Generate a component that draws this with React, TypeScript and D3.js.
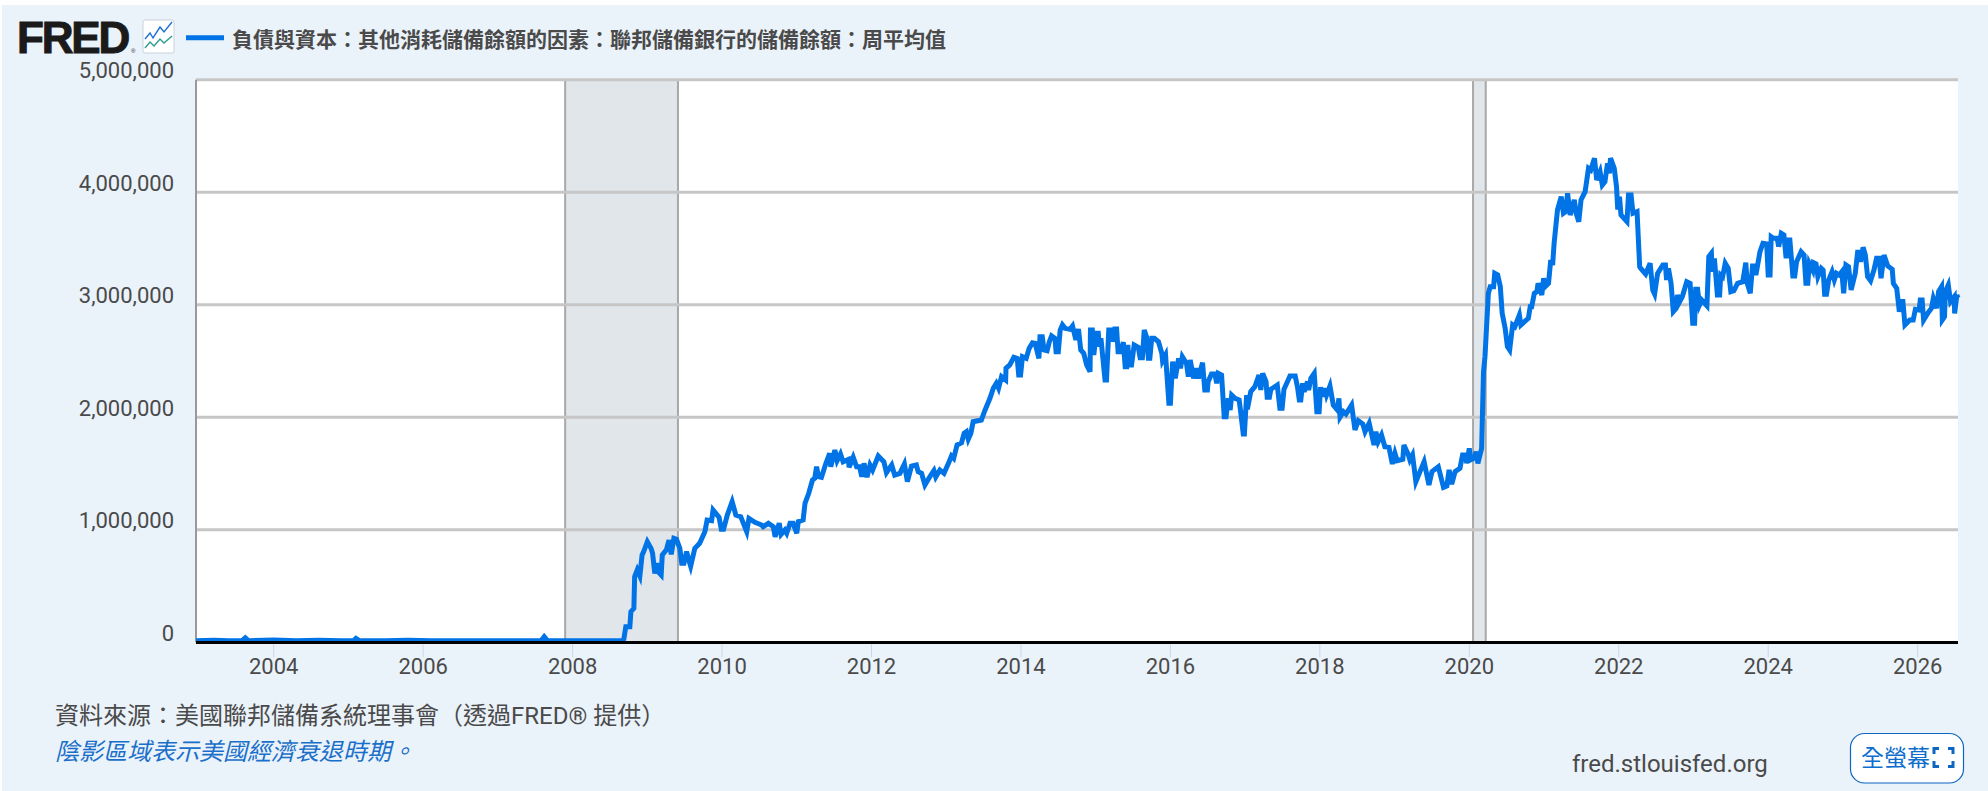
import * as d3 from "d3";

// All series values are in billions of dollars: [decimal year, value]
const flatYears: [number, number][] = [
  [2002.96, 14], [2003.2, 18], [2003.4, 14], [2003.58, 15], [2003.62, 38], [2003.66, 14], [2004.0, 20], [2004.3, 14],
  [2004.6, 18], [2004.9, 14], [2005.07, 15], [2005.1, 34], [2005.14, 16], [2005.5, 14], [2005.8, 18], [2006.1, 12],
  [2006.5, 14], [2006.9, 12], [2007.3, 13], [2007.58, 14], [2007.62, 48], [2007.66, 16], [2008.0, 12], [2008.3, 14],
  [2008.6, 12], [2008.67, 12],
];

const crisisYears: [number, number][] = [
  [2008.685, 26], [2008.712, 138], [2008.766, 138], [2008.78, 271], [2008.82, 301], [2008.83, 582], [2008.865, 642],
  [2008.9, 588], [2008.93, 775], [2008.95, 804], [2009.0, 893], [2009.05, 834], [2009.07, 790], [2009.1, 612],
  [2009.13, 701], [2009.155, 618], [2009.185, 597], [2009.2, 775], [2009.255, 820], [2009.29, 908], [2009.32, 781],
  [2009.355, 923], [2009.39, 915], [2009.435, 834], [2009.46, 701], [2009.49, 701], [2009.525, 805], [2009.555, 731],
  [2009.58, 675], [2009.635, 834], [2009.7, 879], [2009.77, 982], [2009.8, 1086], [2009.86, 1080], [2009.88, 1175],
  [2009.96, 1110], [2009.99, 1003], [2010.02, 1003], [2010.07, 1130], [2010.135, 1249], [2010.185, 1130],
  [2010.25, 1116], [2010.33, 982], [2010.36, 1101], [2010.44, 1066], [2010.53, 1042], [2010.55, 1027], [2010.62, 1057],
  [2010.685, 1027], [2010.71, 938], [2010.765, 1057], [2010.79, 959], [2010.84, 997], [2010.865, 968], [2010.91, 1057],
  [2010.95, 1057], [2011.0, 968], [2011.02, 1071], [2011.085, 1086], [2011.11, 1235], [2011.16, 1324],
];

const plateauYears: [number, number][] = [
  [2011.21, 1442], [2011.24, 1457], [2011.265, 1560], [2011.29, 1471], [2011.33, 1466], [2011.39, 1590], [2011.44, 1679],
  [2011.455, 1560], [2011.51, 1708], [2011.54, 1613], [2011.585, 1673], [2011.62, 1604], [2011.69, 1625], [2011.7, 1555],
  [2011.755, 1644], [2011.8, 1560], [2011.84, 1560], [2011.87, 1471], [2011.9, 1590], [2011.94, 1466], [2011.98, 1575],
  [2012.015, 1531], [2012.09, 1655], [2012.165, 1604], [2012.2, 1507], [2012.27, 1575], [2012.31, 1486], [2012.38, 1501],
  [2012.44, 1584], [2012.48, 1427], [2012.535, 1566], [2012.6, 1575], [2012.625, 1516], [2012.67, 1501], [2012.715, 1397],
  [2012.78, 1471], [2012.835, 1525], [2012.86, 1469], [2012.915, 1531], [2012.97, 1501], [2013.03, 1590], [2013.07, 1655],
  [2013.1, 1635], [2013.145, 1753], [2013.205, 1773], [2013.24, 1857], [2013.27, 1871], [2013.295, 1804], [2013.33, 1857],
  [2013.36, 1960], [2013.47, 1975], [2013.52, 2064],
];

const peak2014Years: [number, number][] = [
  [2013.585, 2168], [2013.63, 2257], [2013.67, 2301], [2013.7, 2257], [2013.74, 2360], [2013.795, 2331], [2013.8, 2435],
  [2013.85, 2464], [2013.905, 2532], [2013.95, 2523], [2013.97, 2375], [2013.995, 2375], [2014.02, 2538], [2014.07, 2523],
  [2014.11, 2612], [2014.155, 2662], [2014.19, 2657], [2014.24, 2523], [2014.255, 2716], [2014.285, 2716], [2014.31, 2597],
  [2014.35, 2591], [2014.38, 2671], [2014.41, 2722], [2014.455, 2701], [2014.47, 2582], [2014.5, 2582], [2014.525, 2775],
  [2014.555, 2820], [2014.59, 2790], [2014.655, 2781], [2014.69, 2811], [2014.735, 2686], [2014.77, 2784], [2014.8, 2597],
  [2014.84, 2568], [2014.88, 2464], [2014.925, 2404], [2014.93, 2775], [2014.955, 2775], [2014.975, 2553], [2015.005, 2746],
  [2015.035, 2746], [2015.05, 2627], [2015.07, 2701], [2015.125, 2331], [2015.145, 2331], [2015.175, 2775], [2015.215, 2775],
  [2015.225, 2671], [2015.255, 2784], [2015.28, 2784], [2015.3, 2582], [2015.335, 2582], [2015.37, 2666], [2015.395, 2449],
  [2015.415, 2449], [2015.43, 2642], [2015.45, 2464], [2015.48, 2464], [2015.515, 2642], [2015.57, 2621], [2015.595, 2529],
  [2015.625, 2529], [2015.65, 2775], [2015.68, 2716], [2015.705, 2523], [2015.725, 2523], [2015.75, 2701], [2015.785, 2701],
  [2015.84, 2671], [2015.885, 2568], [2015.895, 2502], [2015.935, 2553], [2015.98, 2124], [2016.0, 2124], [2016.03, 2493],
  [2016.065, 2346], [2016.11, 2523], [2016.135, 2435], [2016.16, 2538], [2016.215, 2479], [2016.24, 2360],
];

const declineYears: [number, number][] = [
  [2016.265, 2508], [2016.31, 2346], [2016.345, 2435], [2016.375, 2346], [2016.43, 2484], [2016.46, 2242], [2016.495, 2242],
  [2016.505, 2316], [2016.55, 2384], [2016.595, 2384], [2016.62, 2301], [2016.64, 2390], [2016.685, 2375], [2016.72, 2004],
  [2016.745, 2004], [2016.775, 2168], [2016.8, 2064], [2016.82, 2197], [2016.865, 2168], [2016.92, 2153], [2016.94, 2049],
  [2016.975, 1851], [2016.99, 1851], [2017.02, 2197], [2017.03, 2070], [2017.075, 2227], [2017.13, 2271], [2017.185, 2375],
  [2017.21, 2242], [2017.235, 2390], [2017.28, 2316], [2017.295, 2177], [2017.325, 2177], [2017.345, 2248], [2017.43, 2286],
  [2017.465, 2079], [2017.495, 2079], [2017.52, 2248], [2017.6, 2366], [2017.67, 2366], [2017.7, 2271], [2017.725, 2153],
  [2017.745, 2153], [2017.77, 2301], [2017.79, 2227], [2017.835, 2316], [2017.85, 2242], [2017.88, 2346], [2017.925, 2390],
  [2017.96, 2049], [2017.99, 2049], [2018.01, 2266], [2018.04, 2182], [2018.07, 2257], [2018.09, 2197], [2018.135, 2277],
  [2018.18, 2108], [2018.235, 2064], [2018.255, 2168], [2018.27, 2000], [2018.315, 2049], [2018.35, 2028], [2018.425, 2108],
  [2018.47, 1886], [2018.515, 1969], [2018.575, 1940], [2018.605, 1871], [2018.66, 1946], [2018.725, 1753], [2018.75, 1871],
  [2018.78, 1782], [2018.825, 1842], [2018.87, 1738], [2018.925, 1732], [2018.97, 1584], [2019.005, 1679], [2019.035, 1613],
  [2019.11, 1626], [2019.125, 1753], [2019.185, 1664], [2019.205, 1620], [2019.24, 1664], [2019.285, 1427], [2019.34, 1516],
  [2019.395, 1604], [2019.46, 1397], [2019.5, 1516], [2019.585, 1560], [2019.655, 1377], [2019.7, 1389], [2019.73, 1531],
  [2019.765, 1406], [2019.81, 1516], [2019.875, 1546], [2019.91, 1664], [2019.955, 1664], [2019.965, 1590], [2020.0, 1723],
  [2020.015, 1620], [2020.065, 1635], [2020.09, 1693], [2020.115, 1590], [2020.165, 1723],
];

const pandemicYears: [number, number][] = [
  [2020.175, 2004], [2020.19, 2400], [2020.21, 2538], [2020.255, 3101], [2020.28, 3160], [2020.325, 3160], [2020.34, 3279],
  [2020.38, 3264], [2020.415, 3160], [2020.44, 2923], [2020.48, 2790], [2020.51, 2627], [2020.54, 2597], [2020.58, 2820],
  [2020.61, 2804], [2020.67, 2908], [2020.69, 2820], [2020.79, 2879], [2020.815, 2982], [2020.835, 2982], [2020.87, 3101],
  [2020.905, 3116], [2020.92, 3190], [2020.97, 3086], [2020.995, 3235], [2021.015, 3160], [2021.06, 3190], [2021.09, 3397],
  [2021.115, 3353], [2021.135, 3546], [2021.18, 3842], [2021.23, 3960], [2021.26, 3813], [2021.29, 3827], [2021.315, 3990],
  [2021.35, 3797], [2021.405, 3931], [2021.43, 3813], [2021.465, 3738], [2021.495, 3931], [2021.55, 4005], [2021.595, 4212],
  [2021.625, 4197], [2021.675, 4302], [2021.705, 4108], [2021.75, 4182], [2021.78, 4064], [2021.815, 4093], [2021.85, 4257],
  [2021.875, 4168], [2021.89, 4302], [2021.94, 4212], [2021.97, 4049], [2021.985, 3866], [2021.995, 3866], [2022.01, 3960],
  [2022.03, 3797], [2022.11, 3738], [2022.13, 3975], [2022.165, 3975], [2022.19, 3813], [2022.245, 3827], [2022.28, 3338],
];

const recentYears: [number, number][] = [
  [2022.295, 3323], [2022.36, 3273], [2022.42, 3368], [2022.455, 3131], [2022.48, 3095], [2022.52, 3279], [2022.59, 3353],
  [2022.625, 3353], [2022.64, 3220], [2022.665, 3323], [2022.7, 3190], [2022.73, 2938], [2022.77, 2968], [2022.785, 3086],
  [2022.815, 3027], [2022.85, 3071], [2022.91, 3204], [2022.955, 3190], [2022.99, 2835], [2023.015, 2835], [2023.03, 3137],
  [2023.055, 3137], [2023.08, 2997], [2023.11, 3042], [2023.18, 2991], [2023.205, 3427], [2023.24, 3457], [2023.25, 3293],
  [2023.28, 3412], [2023.32, 3086], [2023.35, 3086], [2023.365, 3264], [2023.39, 3249], [2023.425, 3368], [2023.465, 3323],
  [2023.5, 3116], [2023.54, 3124], [2023.59, 3190], [2023.66, 3204], [2023.7, 3374], [2023.72, 3190], [2023.76, 3101],
  [2023.79, 3344], [2023.82, 3344], [2023.835, 3264], [2023.89, 3471], [2023.93, 3546], [2023.98, 3540], [2024.0, 3264],
  [2024.025, 3264], [2024.04, 3604], [2024.07, 3590], [2024.12, 3590], [2024.14, 3516], [2024.175, 3635], [2024.21, 3620],
  [2024.24, 3412], [2024.265, 3575], [2024.29, 3575], [2024.33, 3255], [2024.355, 3255], [2024.38, 3382], [2024.44, 3471],
  [2024.48, 3442], [2024.505, 3190], [2024.53, 3190], [2024.55, 3368], [2024.595, 3308], [2024.605, 3374], [2024.64, 3362],
  [2024.665, 3249], [2024.71, 3323], [2024.735, 3308], [2024.755, 3092], [2024.78, 3092], [2024.81, 3220], [2024.855, 3293],
  [2024.885, 3220], [2024.915, 3279], [2024.95, 3264], [2024.985, 3293], [2025.01, 3101], [2025.04, 3353], [2025.075, 3338],
  [2025.11, 3131], [2025.165, 3279], [2025.2, 3486], [2025.235, 3382], [2025.27, 3510], [2025.3, 3442], [2025.33, 3249],
  [2025.37, 3213], [2025.415, 3308], [2025.45, 3412], [2025.485, 3412], [2025.51, 3235], [2025.55, 3442], [2025.6, 3344],
  [2025.66, 3315], [2025.675, 3190], [2025.72, 3146], [2025.755, 2938], [2025.8, 3048], [2025.83, 2820], [2025.895, 2864],
  [2025.94, 2864], [2025.97, 2959], [2026.02, 2953], [2026.035, 3042], [2026.06, 3042], [2026.08, 2864], [2026.14, 2929],
  [2026.185, 2968], [2026.21, 3056], [2026.255, 2968], [2026.28, 3116], [2026.32, 3160], [2026.33, 2864], [2026.36, 2893],
  [2026.37, 3116], [2026.41, 3175], [2026.44, 3027], [2026.49, 3071], [2026.495, 2923], [2026.525, 3086], [2026.54, 3060],
];

const reserves = [
  ...flatYears,
  ...crisisYears,
  ...plateauYears,
  ...peak2014Years,
  ...declineYears,
  ...pandemicYears,
  ...recentYears,
];

const recessions: [number, number][] = [
  [2007.9, 2009.41],
  [2020.05, 2020.22],
];

const yTicks = [0, 1000, 2000, 3000, 4000, 5000];
const xTicks = [2004, 2006, 2008, 2010, 2012, 2014, 2016, 2018, 2020, 2022, 2024, 2026];

const titleText = "負債與資本：其他消耗儲備餘額的因素：聯邦儲備銀行的儲備餘額：周平均值";
const sourceText = "資料來源：美國聯邦儲備系統理事會（透過FRED® 提供）";
const noteText = "陰影區域表示美國經濟衰退時期。";

const WIDTH = 1988;
const HEIGHT = 791;
const left = 196;
const right = 1958;
const top = 79.7;
const bottom = 642.2;

const cjk = '"Noto Sans CJK TC", "Noto Sans", sans-serif';
const mixed = 'Roboto, "Noto Sans CJK TC", sans-serif';
const ink = "#4a4a4a";
const blue = "#0073e6";

export default function App() {
  const x = d3.scaleLinear().domain([2002.96, 2026.54]).range([left, right]);
  const y = d3.scaleLinear().domain([0, 5000]).range([bottom, top]);
  const line = d3
    .line<[number, number]>()
    .x((d) => x(d[0]))
    .y((d) => y(d[1]));
  const fmt = d3.format(",");

  return (
    <svg
      width={WIDTH}
      height={HEIGHT}
      viewBox={`0 0 ${WIDTH} ${HEIGHT}`}
      style={{ position: "absolute", left: 0, top: 0, display: "block" }}
    >
      <rect width={WIDTH} height={HEIGHT} fill="#fff" />
      <rect x={2} y={5} width={WIDTH - 2} height={HEIGHT - 5} fill="#eaf2fa" />

      {/* FRED logo */}
      <text
        x={17}
        y={52.5}
        fontFamily='"Liberation Sans", sans-serif'
        fontWeight={700}
        fontSize={44}
        letterSpacing={-2.2}
        fill="#1a1a1a"
        stroke="#1a1a1a"
        strokeWidth={1}
      >
        FRED
        <tspan dx={3} fontSize={6} fontWeight={400} letterSpacing={0} strokeWidth={0}>
          ®
        </tspan>
      </text>
      <g>
        <rect x={143} y={20} width={31} height={33} rx={2} fill="#fff" stroke="#c9d3dc" />
        <polyline points="145,39 150,33 153,38 160,27 164,32 172,22" fill="none" stroke="#1c6fd8" strokeWidth={1.4} />
        <polyline points="145,48 150,42 154,46 160,39 164,43 172,36" fill="none" stroke="#2a9d8f" strokeWidth={1.4} />
      </g>

      {/* legend and title */}
      <line x1={186} x2={224} y1={37.7} y2={37.7} stroke={blue} strokeWidth={5} />
      <text x={232} y={47} fontFamily={cjk} fontWeight={700} fontSize={21} fill={ink}>
        {titleText}
      </text>

      {/* plot area */}
      <rect x={left} y={top} width={right - left} height={bottom - top} fill="#fff" />
      {recessions.map(([a, b]) => (
        <g key={a}>
          <rect x={x(a)} y={top} width={x(b) - x(a)} height={bottom - top} fill="#e1e6ea" />
          <line x1={x(a)} x2={x(a)} y1={top} y2={bottom} stroke="#a8a8a8" strokeWidth={2} />
          <line x1={x(b)} x2={x(b)} y1={top} y2={bottom} stroke="#a8a8a8" strokeWidth={2} />
        </g>
      ))}
      {yTicks
        .filter((t) => t > 0)
        .map((t) => (
          <line key={t} x1={left} x2={right} y1={y(t)} y2={y(t)} stroke="#c6c6c6" strokeWidth={3} />
        ))}
      <line x1={left} x2={left} y1={top} y2={bottom} stroke="#999" strokeWidth={2} />

      <path d={line(reserves) ?? ""} fill="none" stroke={blue} strokeWidth={5} strokeLinejoin="miter" />

      {/* x axis */}
      <line x1={left} x2={right} y1={bottom + 0.3} y2={bottom + 0.3} stroke="#000" strokeWidth={3} />
      {xTicks.map((t) => (
        <g key={t}>
          <line x1={x(t)} x2={x(t)} y1={bottom + 2} y2={bottom + 15} stroke="#ccd6eb" strokeWidth={1} />
          <text x={x(t)} y={674} textAnchor="middle" fontFamily="Roboto, sans-serif" fontSize={22} fill={ink}>
            {t}
          </text>
        </g>
      ))}

      {/* y axis labels */}
      {yTicks.map((t) => (
        <text key={t} x={174} y={y(t) - 1.5} textAnchor="end" fontFamily="Roboto, sans-serif" fontSize={22} fill={ink}>
          {fmt(t * 1000)}
        </text>
      ))}

      {/* footer */}
      <text x={55} y={724} fontFamily={mixed} fontSize={24} fill={ink}>
        {sourceText}
      </text>
      <text x={55} y={760} fontFamily={mixed} fontSize={24} fontStyle="italic" fill="#1a6fc9">
        {noteText}
      </text>
      <text x={1572} y={772} fontFamily="Roboto, sans-serif" fontSize={24} fill={ink}>
        fred.stlouisfed.org
      </text>

      {/* fullscreen button */}
      <rect x={1850.5} y={733.5} width={113} height={49.5} rx={14} fill="#fff" stroke="#0d66c2" strokeWidth={1.2} />
      <text x={1861} y={766} fontFamily={cjk} fontSize={23} fill="#0d6ecd">
        全螢幕
      </text>
      <path
        d="M1934 754v-5.500h5M1948 748.500h5v5.500M1953 761v5.500h-5M1939 766.500h-5v-5.500"
        fill="none"
        stroke="#0d66c2"
        strokeWidth={3}
      />
    </svg>
  );
}
